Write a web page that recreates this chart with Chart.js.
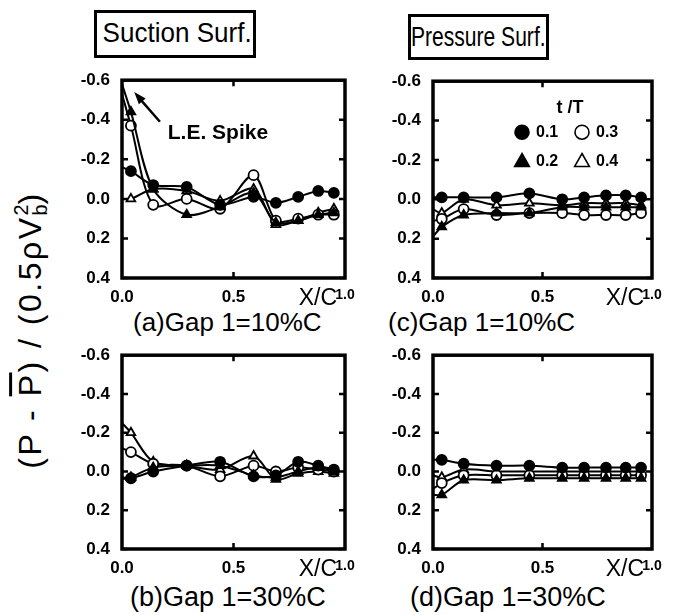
<!DOCTYPE html>
<html>
<head>
<meta charset="utf-8">
<script src="https://cdn.jsdelivr.net/npm/chart.js@4.4.0/dist/chart.umd.min.js"></script>
<style>
body { margin: 0; background: #fff; width: 673px; height: 615px; position: relative; overflow: hidden; font-family: "Liberation Sans", Arial, sans-serif; }
canvas { position: absolute; }
.box { position: absolute; border: 3px solid #000; box-sizing: border-box; text-align: center; line-height: 40px; white-space: nowrap; overflow: visible; }
.box span { display: inline-block; }
.cap { position: absolute; font-size: 26px; line-height: 28px; white-space: nowrap; }
#ylab { position: absolute; left: 31px; top: 330px; width: 0; height: 0; }
#ylab div { position: absolute; white-space: nowrap; font-size: 32px; letter-spacing: 2.5px; transform: translate(-50%, -50%) rotate(-90deg); }
.ss { display: inline-block; vertical-align: -0.3em; line-height: 0.95; font-size: 0.62em; text-align: left; letter-spacing: 0; }
.ss span { display: block; }
</style>
</head>
<body>
<div class="box" style="left:94px;top:10px;width:162px;height:48px;"><span style="font-size:28px;transform:scaleX(0.93);">Suction Surf.</span></div>
<div class="box" style="left:408px;top:14px;width:141px;height:46px;"><span style="font-size:27px;transform:scaleX(0.78);margin-left:-40px;margin-right:-40px;">Pressure Surf.</span></div>
<div class="cap" style="left:133px;top:308px;">(a)Gap 1=10%C</div>
<div class="cap" style="left:388px;top:308px;">(c)Gap 1=10%C</div>
<div class="cap" style="left:130px;top:583px;font-size:27px;">(b)Gap 1=30%C</div>
<div class="cap" style="left:410px;top:583px;font-size:27px;">(d)Gap 1=30%C</div>
<div id="ylab"><div>(P - <span style="text-decoration:overline">P</span>) / (0.5&rho;V<span class="ss"><span>2</span><span>b</span></span>)</div></div>

<canvas id="panelA" width="300" height="250" style="left:60px;top:66px;"></canvas>
<canvas id="panelC" width="300" height="250" style="left:373px;top:67px;"></canvas>
<canvas id="panelB" width="300" height="250" style="left:60px;top:341px;"></canvas>
<canvas id="panelD" width="300" height="250" style="left:373px;top:341px;"></canvas>

<script>
// chordwise stations X/C
const xStations = [0.0, 0.04, 0.14, 0.29, 0.44, 0.59, 0.69, 0.79, 0.88, 0.95];
const seriesLabels = ['0.1', '0.2', '0.3', '0.4'];

// (a) suction surface, gap 10%C
const a01 = [-0.16, -0.14, -0.07, -0.06, 0.03, -0.01, 0.02, -0.01, -0.04, -0.03];
const a02 = [-0.58, -0.44, -0.05, 0.08, 0.04, -0.03, 0.12, 0.11, 0.08, 0.07];
const a03 = [-0.53, -0.37, 0.03, 0.0, 0.05, -0.12, 0.11, 0.10, 0.08, 0.08];
const a04 = [0.0, 0.0, -0.05, -0.04, 0.01, -0.05, 0.13, 0.11, 0.07, 0.05];

// (b) suction surface, gap 30%C
const b01 = [0.03, 0.035, 0.0, -0.03, -0.05, 0.025, 0.02, -0.05, -0.03, -0.01];
const b02 = [0.04, 0.03, -0.02, -0.03, -0.03, 0.02, 0.03, 0.0, -0.02, 0.0];
const b03 = [-0.12, -0.10, -0.04, -0.03, 0.025, -0.03, 0.0, -0.02, -0.01, 0.0];
const b04 = [-0.25, -0.20, -0.05, -0.03, -0.01, -0.08, 0.04, 0.01, 0.0, 0.01];

// (c) pressure surface, gap 10%C
const c01 = [-0.01, -0.01, -0.01, -0.01, -0.03, 0.0, -0.01, -0.02, -0.02, -0.01];
const c02 = [0.19, 0.14, 0.08, 0.07, 0.07, 0.04, 0.04, 0.04, 0.04, 0.04];
const c03 = [0.11, 0.10, 0.05, 0.08, 0.07, 0.07, 0.08, 0.08, 0.08, 0.07];
const c04 = [0.05, 0.07, 0.0, 0.03, 0.02, 0.03, 0.02, 0.02, 0.02, 0.03];

// (d) pressure surface, gap 30%C
const d01 = [-0.06, -0.06, -0.04, -0.03, -0.03, -0.02, -0.02, -0.02, -0.02, -0.02];
const d02 = [0.12, 0.12, 0.045, 0.045, 0.035, 0.035, 0.035, 0.035, 0.035, 0.035];
const d03 = [0.09, 0.06, 0.02, 0.02, 0.02, 0.02, 0.02, 0.02, 0.02, 0.02];
const d04 = [0.02, 0.03, -0.01, 0.0, 0.0, 0.0, 0.0, 0.0, 0.0, 0.0];

const yTicks = [-0.6, -0.4, -0.2, 0.0, 0.2, 0.4];
const yTickLabels = ['-0.6', '-0.4', '-0.2', '0.0', '0.2', '0.4'];
const xTicks = [0.0, 0.5, 1.0];
const xTickLabels = ['0.0', '0.5', '1.0'];

const markerStyles = [
    { style: 'circle', fill: '#000' },
    { style: 'triangle', fill: '#000' },
    { style: 'circle', fill: '#fff' },
    { style: 'triangle', fill: '#fff' }
];

const tickFont = { family: 'Liberation Sans', size: 17, weight: 'bold' };
const smallTickFont = { family: 'Liberation Sans', size: 14, weight: 'bold' };

function drawMarker(ctx, style, fill, x, y, r) {
    ctx.beginPath();
    if (style === 'circle') {
        ctx.arc(x, y, r, 0, Math.PI * 2);
    } else {
        ctx.moveTo(x, y - r * 1.1);
        ctx.lineTo(x + r * 1.05, y + r * 0.75);
        ctx.lineTo(x - r * 1.05, y + r * 0.75);
        ctx.closePath();
    }
    ctx.fillStyle = fill;
    ctx.fill();
    ctx.lineWidth = 1.6;
    ctx.strokeStyle = '#000';
    ctx.stroke();
}

const framePlugin = {
    id: 'frame',
    afterDraw(chart) {
        const { ctx, chartArea: a, scales: { x, y } } = chart;
        ctx.save();
        ctx.strokeStyle = '#000';
        ctx.lineWidth = 3.5;
        ctx.strokeRect(a.left, a.top, a.right - a.left, a.bottom - a.top);
        ctx.lineWidth = 2.5;
        yTicks.forEach(v => {
            const py = y.getPixelForValue(v);
            ctx.beginPath();
            ctx.moveTo(a.left, py); ctx.lineTo(a.left + 6, py);
            ctx.moveTo(a.right, py); ctx.lineTo(a.right - 6, py);
            ctx.stroke();
        });
        const px = x.getPixelForValue(0.5);
        ctx.beginPath();
        ctx.moveTo(px, a.top); ctx.lineTo(px, a.top + 6);
        ctx.moveTo(px, a.bottom); ctx.lineTo(px, a.bottom - 6);
        ctx.stroke();
        ctx.fillStyle = '#000';
        ctx.font = '23px "Liberation Sans"';
        ctx.textAlign = 'right';
        ctx.textBaseline = 'middle';
        ctx.fillText('X/C', a.right - 8, a.bottom + 21);
        ctx.restore();
    }
};

const spikePlugin = {
    id: 'spike',
    afterDraw(chart) {
        const { ctx, scales: { x, y } } = chart;
        const tipX = x.getPixelForValue(0.055), tipY = y.getPixelForValue(-0.54);
        const tailX = x.getPixelForValue(0.17), tailY = y.getPixelForValue(-0.39);
        ctx.save();
        ctx.strokeStyle = '#000';
        ctx.fillStyle = '#000';
        ctx.lineWidth = 2.5;
        ctx.beginPath();
        ctx.moveTo(tailX, tailY);
        ctx.lineTo(tipX + 5, tipY + 6);
        ctx.stroke();
        const ang = Math.atan2(tipY - tailY, tipX - tailX);
        ctx.beginPath();
        ctx.moveTo(tipX, tipY);
        ctx.lineTo(tipX - 13 * Math.cos(ang - 0.35), tipY - 13 * Math.sin(ang - 0.35));
        ctx.lineTo(tipX - 13 * Math.cos(ang + 0.35), tipY - 13 * Math.sin(ang + 0.35));
        ctx.closePath();
        ctx.fill();
        ctx.font = 'bold 21px "Liberation Sans"';
        ctx.textAlign = 'left';
        ctx.textBaseline = 'middle';
        ctx.fillText('L.E. Spike', x.getPixelForValue(0.205), y.getPixelForValue(-0.33));
        ctx.restore();
    }
};

const legendPlugin = {
    id: 'tlegend',
    afterDraw(chart) {
        const { ctx, chartArea: a } = chart;
        ctx.save();
        ctx.fillStyle = '#000';
        ctx.font = 'bold 18px "Liberation Sans"';
        ctx.textAlign = 'center';
        ctx.textBaseline = 'middle';
        ctx.fillText('t /T', a.left + 137, a.top + 27);
        ctx.font = 'bold 16px "Liberation Sans"';
        ctx.textAlign = 'left';
        const cols = [[0, 2], [1, 3]];
        [0, 1].forEach(row => {
            const ry = a.top + 51 + row * 29;
            cols[row].forEach((si, c) => {
                const cx = a.left + 89 + c * 60;
                const m = markerStyles[si];
                drawMarker(ctx, m.style, m.fill, cx, ry, 7);
                ctx.fillStyle = '#000';
                ctx.fillText(seriesLabels[si], cx + 14, ry);
            });
        });
        ctx.restore();
    }
};

function makePanel(id, canvasLeft, canvasTop, area, series, extraPlugins) {
    const canvas = document.getElementById(id);
    const datasets = series.map((vals, i) => ({
        label: seriesLabels[i],
        data: xStations.map((xv, j) => ({ x: xv, y: vals[j] })),
        borderColor: '#000',
        borderWidth: 2,
        pointStyle: markerStyles[i].style,
        pointRadius: ctx => (ctx.raw && ctx.raw.x === 0 ? 0 : 5),
        pointBackgroundColor: markerStyles[i].fill,
        pointBorderColor: '#000',
        pointBorderWidth: 1.8,
        tension: 0.3,
        fill: false
    }));
    return new Chart(canvas, {
        type: 'line',
        data: { datasets },
        options: {
            responsive: false,
            animation: false,
            devicePixelRatio: 1,
            layout: {
                padding: {
                    top: area.top - canvasTop,
                    right: canvasLeft + canvas.width - area.right,
                    left: 0,
                    bottom: 0
                }
            },
            plugins: { legend: { display: false }, tooltip: { enabled: false } },
            scales: {
                x: {
                    type: 'linear',
                    min: 0,
                    max: 1.0,
                    grid: { display: false },
                    border: { display: false },
                    afterBuildTicks: s => { s.ticks = xTicks.map(v => ({ value: v })); },
                    afterFit: s => { s.height = canvasTop + canvas.height - area.bottom; },
                    ticks: {
                        color: '#000',
                        font: c => (c.index === xTicks.length - 1 ? smallTickFont : tickFont),
                        padding: 1,
                        maxRotation: 0,
                        autoSkip: false,
                        callback: (v, i) => xTickLabels[i]
                    }
                },
                y: {
                    type: 'linear',
                    reverse: true,
                    min: -0.6,
                    max: 0.4,
                    grid: { display: false },
                    border: { display: false },
                    afterBuildTicks: s => { s.ticks = yTicks.map(v => ({ value: v })); },
                    afterFit: s => { s.width = area.left - canvasLeft; },
                    ticks: {
                        color: '#000',
                        font: tickFont,
                        padding: 4,
                        autoSkip: false,
                        callback: (v, i) => yTickLabels[i]
                    }
                }
            }
        },
        plugins: [framePlugin].concat(extraPlugins || [])
    });
}

makePanel('panelA', 60, 66, { left: 122, top: 76, right: 345, bottom: 278 }, [a01, a02, a03, a04], [spikePlugin]);
makePanel('panelC', 373, 67, { left: 433, top: 77, right: 652, bottom: 278 }, [c01, c02, c03, c04], [legendPlugin]);
makePanel('panelB', 60, 341, { left: 122, top: 351, right: 345, bottom: 549 }, [b01, b02, b03, b04]);
makePanel('panelD', 373, 341, { left: 433, top: 351, right: 652, bottom: 549 }, [d01, d02, d03, d04]);
</script>
</body>
</html>
